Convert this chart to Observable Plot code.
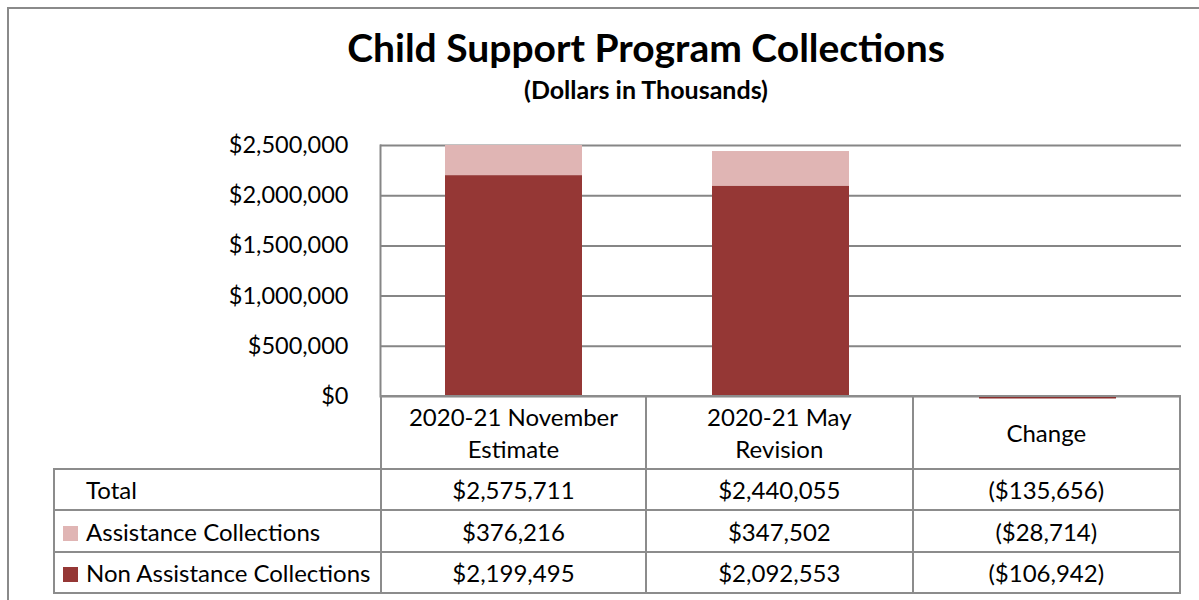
<!DOCTYPE html>
<html>
<head>
<meta charset="utf-8">
<script src="https://cdn.jsdelivr.net/npm/d3@7"></script>
<script src="https://cdn.jsdelivr.net/npm/@observablehq/plot@0.6"></script>
<style>
  html, body { margin: 0; padding: 0; background: #fff; }
  body { width: 1199px; height: 600px; overflow: hidden; position: relative; font-family: Lato, "Open Sans", sans-serif; color: #000; }
  #frame { position: absolute; left: 7px; top: 7px; width: 1300px; height: 700px; border: 2px solid #8a8a8a; box-sizing: border-box; }
  #title { position: absolute; left: 146px; width: 1000px; top: 24px; text-align: center; font-weight: bold; font-size: 39px; line-height: 47px; }
  #subtitle { position: absolute; left: 146px; width: 1000px; top: 74px; text-align: center; font-weight: bold; font-size: 25px; line-height: 30px; }
  #chart { position: absolute; left: 0; top: 130px; }
  #tbl { position: absolute; left: 53px; top: 395px; border-collapse: collapse; table-layout: fixed; font-size: 24px; }
  #tbl td { border: 2px solid #8c8c8c; text-align: center; padding: 0; white-space: nowrap; }
  #tbl td.blank { border: none; }
  #tbl td.lab { text-align: left; padding-left: 8px; }
  .sw { display: inline-block; width: 15px; height: 15px; margin-right: 8px; vertical-align: 0px; }
  .nosw { display: inline-block; width: 15px; margin-right: 8px; }
</style>
</head>
<body>
<div id="frame"></div>
<div id="title"></div>
<div id="subtitle"></div>
<div id="chart"></div>
<table id="tbl"></table>
<script>
const title = "Child Support Program Collections";
const subtitle = "(Dollars in Thousands)";
const categories = ["2020-21 November Estimate", "2020-21 May Revision", "Change"];
const categoryLines = [["2020-21 November", "Estimate"], ["2020-21 May", "Revision"], ["Change"]];
const seriesNames = ["Assistance Collections", "Non Assistance Collections"];
const seriesColors = ["#e0b5b4", "#953735"];
const assistance = [376216, 347502, -28714];
const nonAssistance = [2199495, 2092553, -106942];
const totals = [2575711, 2440055, -135656];
const totalLabel = "Total";
const yTicks = [0, 500000, 1000000, 1500000, 2000000, 2500000];

document.getElementById("title").textContent = title;
document.getElementById("subtitle").textContent = subtitle;

// long-format data; assistance listed first so the darker series draws on top
const rows = [];
categories.forEach((c, i) => {
  rows.push({category: c, series: seriesNames[0], value: assistance[i]});
  rows.push({category: c, series: seriesNames[1], value: nonAssistance[i]});
});
const totalRows = categories.map((c, i) => ({category: c, total: totals[i]}));

const money = d3.format("$,");
const fmtCell = v => v < 0 ? "(" + money(-v) + ")" : money(v);

const chart = Plot.plot({
  width: 1199,
  height: 270,
  marginLeft: 380,
  marginRight: 18,
  marginTop: 15,
  marginBottom: 4,
  style: {fontFamily: "Lato, 'Open Sans', sans-serif", fontSize: "23.5px", color: "#000", background: "transparent", overflow: "visible"},
  x: {domain: categories, paddingInner: 0.487, paddingOuter: 0.2435, axis: null},
  y: {domain: [0, 2500000], clamp: true, ticks: yTicks, tickFormat: d3.format("$,"), tickSize: 0, tickPadding: 32, label: null},
  color: {domain: seriesNames, range: seriesColors},
  marks: [
    Plot.gridY(yTicks, {stroke: "#868686", strokeOpacity: 1, strokeWidth: 2}),
    Plot.frame({anchor: "left", stroke: "#868686", strokeWidth: 2}),
    Plot.barY(rows, Plot.stackY({
      x: "category", y: "value", fill: "series",
      order: [seriesNames[1], seriesNames[0]]
    })),
    Plot.tickY(totalRows.filter(d => d.total < 0), {x: "category", y: "total", stroke: "#8a2f2d", strokeWidth: 2, dy: 1})
  ]
});
document.getElementById("chart").appendChild(chart);

// data table under the chart
const tbl = document.getElementById("tbl");
const colW = [325, 264, 265, 266];
const cg = document.createElement("colgroup");
colW.forEach(w => { const col = document.createElement("col"); col.style.width = w + "px"; cg.appendChild(col); });
tbl.appendChild(cg);
tbl.style.width = (colW.reduce((a, b) => a + b, 0) + 2 * colW.length) + "px";

const head = document.createElement("tr");
head.style.height = "73px";
const blank = document.createElement("td");
blank.className = "blank";
head.appendChild(blank);
categoryLines.forEach((lines, i) => {
  const td = document.createElement("td");
  td.style.lineHeight = "32px";
  td.innerHTML = lines.join("<br>");
  head.appendChild(td);
});
tbl.appendChild(head);

const bodyRows = [
  {label: totalLabel, color: null, vals: totals, h: 41},
  {label: seriesNames[0], color: seriesColors[0], vals: assistance, h: 42},
  {label: seriesNames[1], color: seriesColors[1], vals: nonAssistance, h: 41}
];
bodyRows.forEach(r => {
  const tr = document.createElement("tr");
  tr.style.height = r.h + "px";
  const lab = document.createElement("td");
  lab.className = "lab";
  lab.innerHTML = (r.color ? `<span class="sw" style="background:${r.color}"></span>` : `<span class="nosw"></span>`) + r.label;
  tr.appendChild(lab);
  r.vals.forEach(v => {
    const td = document.createElement("td");
    td.textContent = fmtCell(v);
    tr.appendChild(td);
  });
  tbl.appendChild(tr);
});
</script>
</body>
</html>
